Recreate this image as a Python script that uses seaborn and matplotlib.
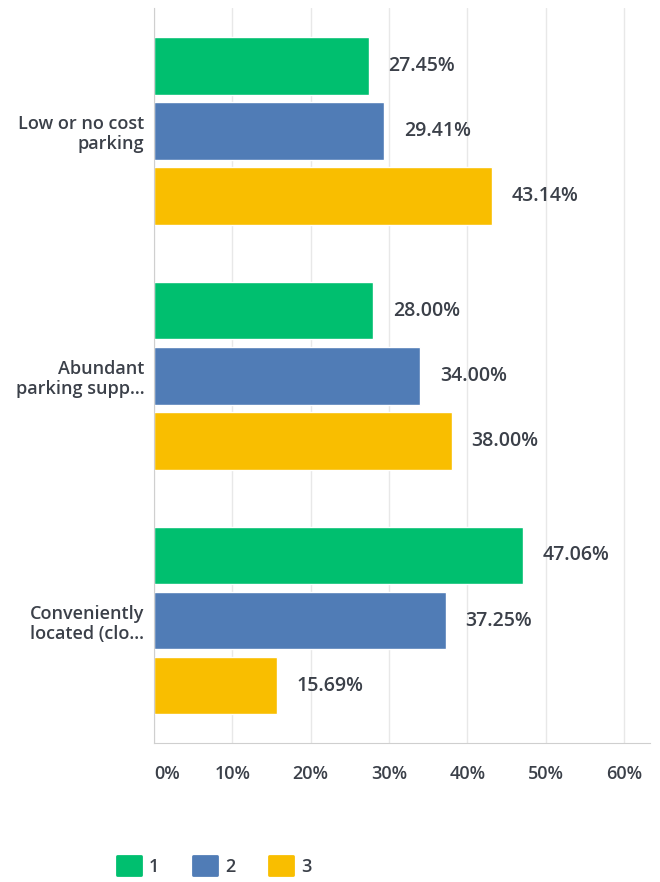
import pandas as pd
import matplotlib.pyplot as plt
import seaborn as sns

categories = ["Low or no cost\nparking", "Abundant\nparking supp...", "Conveniently\nlocated (clo..."]
series = ["1", "2", "3"]
vals_1 = [27.45, 28.00, 47.06]
vals_2 = [29.41, 34.00, 37.25]
vals_3 = [43.14, 38.00, 15.69]
tick_vals = [0, 10, 20, 30, 40, 50, 60]

colors = ["#00bf6f", "#507cb6", "#f9be00"]
txt = "#3b4049"

rows = []
for s, vals in zip(series, [vals_1, vals_2, vals_3]):
    for c, v in zip(categories, vals):
        rows.append({"cat": c, "series": s, "val": v})
df = pd.DataFrame(rows)

sns.set_style("white")
plt.rcParams["font.family"] = ["Open Sans", "DejaVu Sans"]

fig = plt.figure(figsize=(6.6, 8.82), dpi=100)
ax = fig.add_axes([0.2333, 0.1576, 0.7515, 0.8333])

sns.barplot(data=df, y="cat", x="val", hue="series", palette=colors,
            orient="h", width=0.796, gap=0.108, ax=ax, saturation=1)

for cont in ax.containers:
    ax.bar_label(cont, fmt="%.2f%%", padding=14, fontsize=14,
                 color=txt, fontweight="semibold")

ax.set_xlim(0, 63.3)
ax.set_ylim(2.5, -0.5)
ax.set_xticks(tick_vals)
ax.set_xticklabels([f"{t}%" for t in tick_vals])
ax.xaxis.grid(True, color="#e8e8e8", linewidth=1)
ax.set_axisbelow(True)
ax.set_xlabel("")
ax.set_ylabel("")
for sp in ["top", "right"]:
    ax.spines[sp].set_visible(False)
ax.spines["left"].set_color("#cfcfcf")
ax.spines["bottom"].set_color("#cfcfcf")
ax.tick_params(axis="x", length=0, pad=16, labelsize=13, labelcolor=txt)
ax.tick_params(axis="y", length=0, pad=7, labelsize=13, labelcolor=txt)
for lab in ax.get_xticklabels():
    lab.set_fontweight("semibold")
ax.get_xticklabels()[0].set_horizontalalignment("left")
for lab in ax.get_yticklabels():
    lab.set_fontweight("semibold")
    lab.set_linespacing(1.2)

leg = ax.legend(loc="center left", bbox_to_anchor=(-0.107, -0.167), ncol=3,
                frameon=False, handlelength=1.3, handleheight=1.3,
                handletextpad=0.45, columnspacing=1.9, fontsize=13)
for t in leg.get_texts():
    t.set_color(txt)
    t.set_fontweight("semibold")
for h in leg.legend_handles:
    h.set_joinstyle("round")
    h.set_edgecolor(h.get_facecolor())
    h.set_linewidth(2)

fig.savefig("out.png", dpi=100)
